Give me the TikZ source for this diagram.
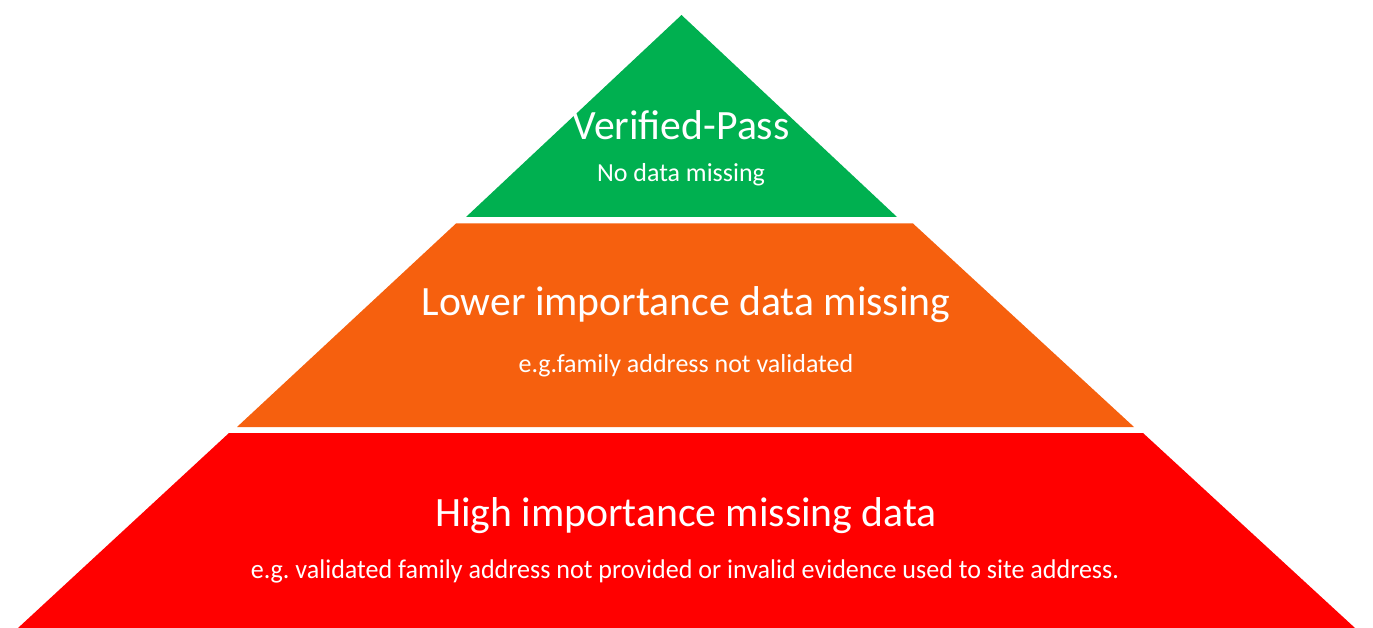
\documentclass[tikz,border=0pt]{standalone}
\usepackage{fontspec}
\setmainfont{Carlito}
\definecolor{passgreen}{RGB}{0,176,80}
\definecolor{loworange}{RGB}{246,96,14}
\definecolor{highred}{RGB}{255,0,0}
\frenchspacing
\begin{document}
\begin{tikzpicture}[x=1pt,y=-1pt,
  tiertext/.style={text=white, anchor=base, inner sep=0pt},
  headfont/.style={font=\fontsize{#1}{#1}\selectfont}]
\useasboundingbox (0,0) rectangle (1373,628);
% pyramid tiers
\fill[passgreen] (681.5,15) -- (897,217) -- (466,217) -- cycle;
\fill[loworange] (456,223.5) -- (913,223.5) -- (1134,427) -- (237,427) -- cycle;
\fill[highred] (229,433) -- (1143,433) -- (1355,628) -- (18,628) -- cycle;
% tier captions
\node[tiertext, headfont=41.7] (pass) at (681,140) {Verified-Pass};
\node[tiertext, headfont=26] (passsub) at (681,182) {No data missing};
\node[tiertext, headfont=41.7] (low) at (686,316) {Lower importance data missing};
\node[tiertext, headfont=26] (lowsub) at (686,372) {e.g.family address not validated};
\node[tiertext, headfont=41.7] (high) at (686,526) {High importance missing data};
\node[tiertext, headfont=27] (highsub) at (685,578) {\scalebox{0.965}[1]{e.g. validated family address not provided or invalid evidence used to site address.}};
\end{tikzpicture}
\end{document}
